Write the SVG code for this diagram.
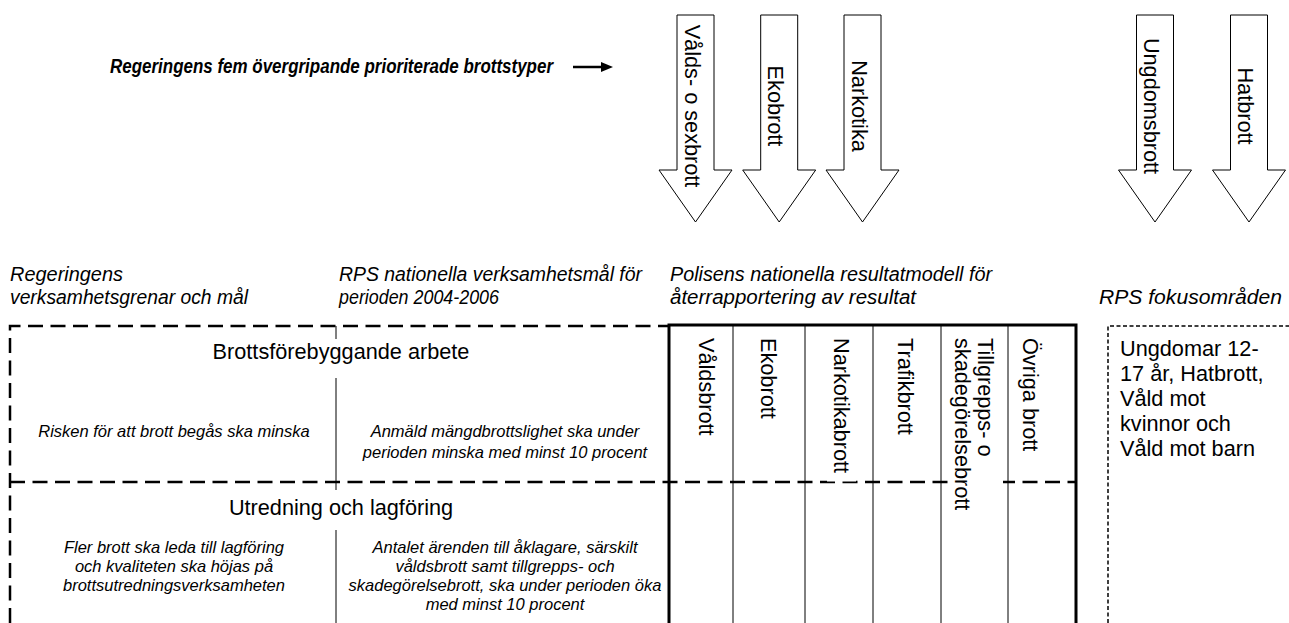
<svg xmlns="http://www.w3.org/2000/svg" xmlns:xlink="http://www.w3.org/1999/xlink" width="1289" height="623" viewBox="0 0 1289 623">
<style>
text{font-family:"Liberation Sans",Arial,sans-serif;fill:#000}
.t{font-size:21.7px}
.h{font-size:20.5px;font-style:italic}
.s{font-size:16.5px;font-style:italic}
.c{text-anchor:middle}
.big{fill:#fff;stroke:#000;stroke-width:1}
.dash{fill:none;stroke:#000;stroke-width:2.5;stroke-dasharray:15 7.5}
.fine{fill:none;stroke:#000;stroke-width:1.5;stroke-dasharray:4 2.5}
.thin{fill:none;stroke:#000;stroke-width:1}
.thick{fill:none;stroke:#000;stroke-width:3}
</style>
<defs>
<path id="bigarrow" d="M-18.5,0 H18.5 V155 H36.5 L0,207 L-36.5,155 H-18.5 Z"/>
<marker id="ah" markerWidth="5" markerHeight="4" refX="0.5" refY="2" orient="auto" markerUnits="strokeWidth">
<path d="M0,0 L5,2 L0,4 Z" fill="#000"/>
</marker>
</defs>
<rect width="1289" height="623" fill="#fff"/>

<g id="title">
<text x="110" y="73" style="font-size:20.5px;font-style:italic;font-weight:bold" textLength="443" lengthAdjust="spacingAndGlyphs">Regeringens fem övergripande prioriterade brottstyper</text>
</g>

<g id="connectors">
<line x1="573" y1="67" x2="602" y2="67" stroke="#000" stroke-width="2.5" marker-end="url(#ah)"/>
</g>

<g id="arrow-valds">
<use xlink:href="#bigarrow" href="#bigarrow" x="695.5" y="15" class="big"/>
<text class="t c" transform="translate(684.5,106) rotate(90)">Vålds- o sexbrott</text>
</g>
<g id="arrow-eko">
<use xlink:href="#bigarrow" href="#bigarrow" x="779.2" y="15" class="big"/>
<text class="t c" transform="translate(768.2,106) rotate(90)">Ekobrott</text>
</g>
<g id="arrow-narkotika">
<use xlink:href="#bigarrow" href="#bigarrow" x="862.5" y="15" class="big"/>
<text class="t c" transform="translate(851.5,106) rotate(90)">Narkotika</text>
</g>
<g id="arrow-ungdom">
<use xlink:href="#bigarrow" href="#bigarrow" x="1155" y="15" class="big"/>
<text class="t c" transform="translate(1144,106) rotate(90)">Ungdomsbrott</text>
</g>
<g id="arrow-hat">
<use xlink:href="#bigarrow" href="#bigarrow" x="1249" y="15" class="big"/>
<text class="t c" transform="translate(1238,106) rotate(90)">Hatbrott</text>
</g>

<g id="headings">
<text class="h" x="10" y="281" textLength="113" lengthAdjust="spacingAndGlyphs">Regeringens</text>
<text class="h" x="10" y="304" textLength="238" lengthAdjust="spacingAndGlyphs">verksamhetsgrenar och mål</text>
<text class="h" x="339" y="281" textLength="303" lengthAdjust="spacingAndGlyphs">RPS nationella verksamhetsmål för</text>
<text class="h" x="339" y="304" textLength="160" lengthAdjust="spacingAndGlyphs">perioden 2004-2006</text>
<text class="h" x="670" y="281" textLength="322" lengthAdjust="spacingAndGlyphs">Polisens nationella resultatmodell för</text>
<text class="h" x="670" y="304" textLength="246" lengthAdjust="spacingAndGlyphs">återrapportering av resultat</text>
<text class="h" x="1099" y="304" textLength="183" lengthAdjust="spacingAndGlyphs">RPS fokusområden</text>
</g>

<g id="table-left">
<path class="dash" d="M10,623 V326 H669"/>
<path class="dash" d="M10,482 H1076"/>
<path class="thin" d="M336,326 V339 M336,378 V490 M336,530 V623"/>
</g>

<g id="row-brottsforebyggande">
<text class="t c" x="341" y="359">Brottsförebyggande arbete</text>
<text class="s c" x="174" y="437">Risken för att brott begås ska minska</text>
<text class="s c" x="505" y="437">Anmäld mängdbrottslighet ska under</text>
<text class="s c" x="505" y="458">perioden minska med minst 10 procent</text>
</g>

<g id="row-utredning">
<text class="t c" x="341" y="515">Utredning och lagföring</text>
<text class="s c" x="174" y="553">Fler brott ska leda till lagföring</text>
<text class="s c" x="174" y="572">och kvaliteten ska höjas på</text>
<text class="s c" x="174" y="591">brottsutredningsverksamheten</text>
<text class="s c" x="505" y="553">Antalet ärenden till åklagare, särskilt</text>
<text class="s c" x="505" y="572">våldsbrott samt tillgrepps- och</text>
<text class="s c" x="505" y="591">skadegörelsebrott, ska under perioden öka</text>
<text class="s c" x="505" y="610">med minst 10 procent</text>
</g>

<g id="resultatmodell">
<path class="thin" d="M733,325 V623 M805,325 V623 M873,325 V623 M941,325 V623 M1008,325 V623"/>
<rect x="827" y="478.5" width="29" height="3" fill="#fff"/>
<rect x="950" y="476" width="53" height="10" fill="#fff"/>
<path class="thick" d="M669,623 V325 H1076 V623"/>
<text class="t" transform="translate(698.5,338) rotate(90)">Våldsbrott</text>
<text class="t" transform="translate(761,338) rotate(90)">Ekobrott</text>
<text class="t" transform="translate(834,338) rotate(90)">Narkotikabrott</text>
<text class="t" transform="translate(898,338) rotate(90)">Trafikbrott</text>
<text class="t" transform="translate(978,338) rotate(90)">Tillgrepps- o</text>
<text class="t" transform="translate(955,338) rotate(90)">skadegörelsebrott</text>
<text class="t" transform="translate(1023,338) rotate(90)">Övriga brott</text>
</g>

<g id="fokusomraden">
<path class="fine" d="M1108,623 V326 H1289"/>
<text class="t" x="1120" y="356">Ungdomar 12-</text>
<text class="t" x="1120" y="381">17 år, Hatbrott,</text>
<text class="t" x="1120" y="406">Våld mot</text>
<text class="t" x="1120" y="431">kvinnor och</text>
<text class="t" x="1120" y="456">Våld mot barn</text>
</g>
</svg>
